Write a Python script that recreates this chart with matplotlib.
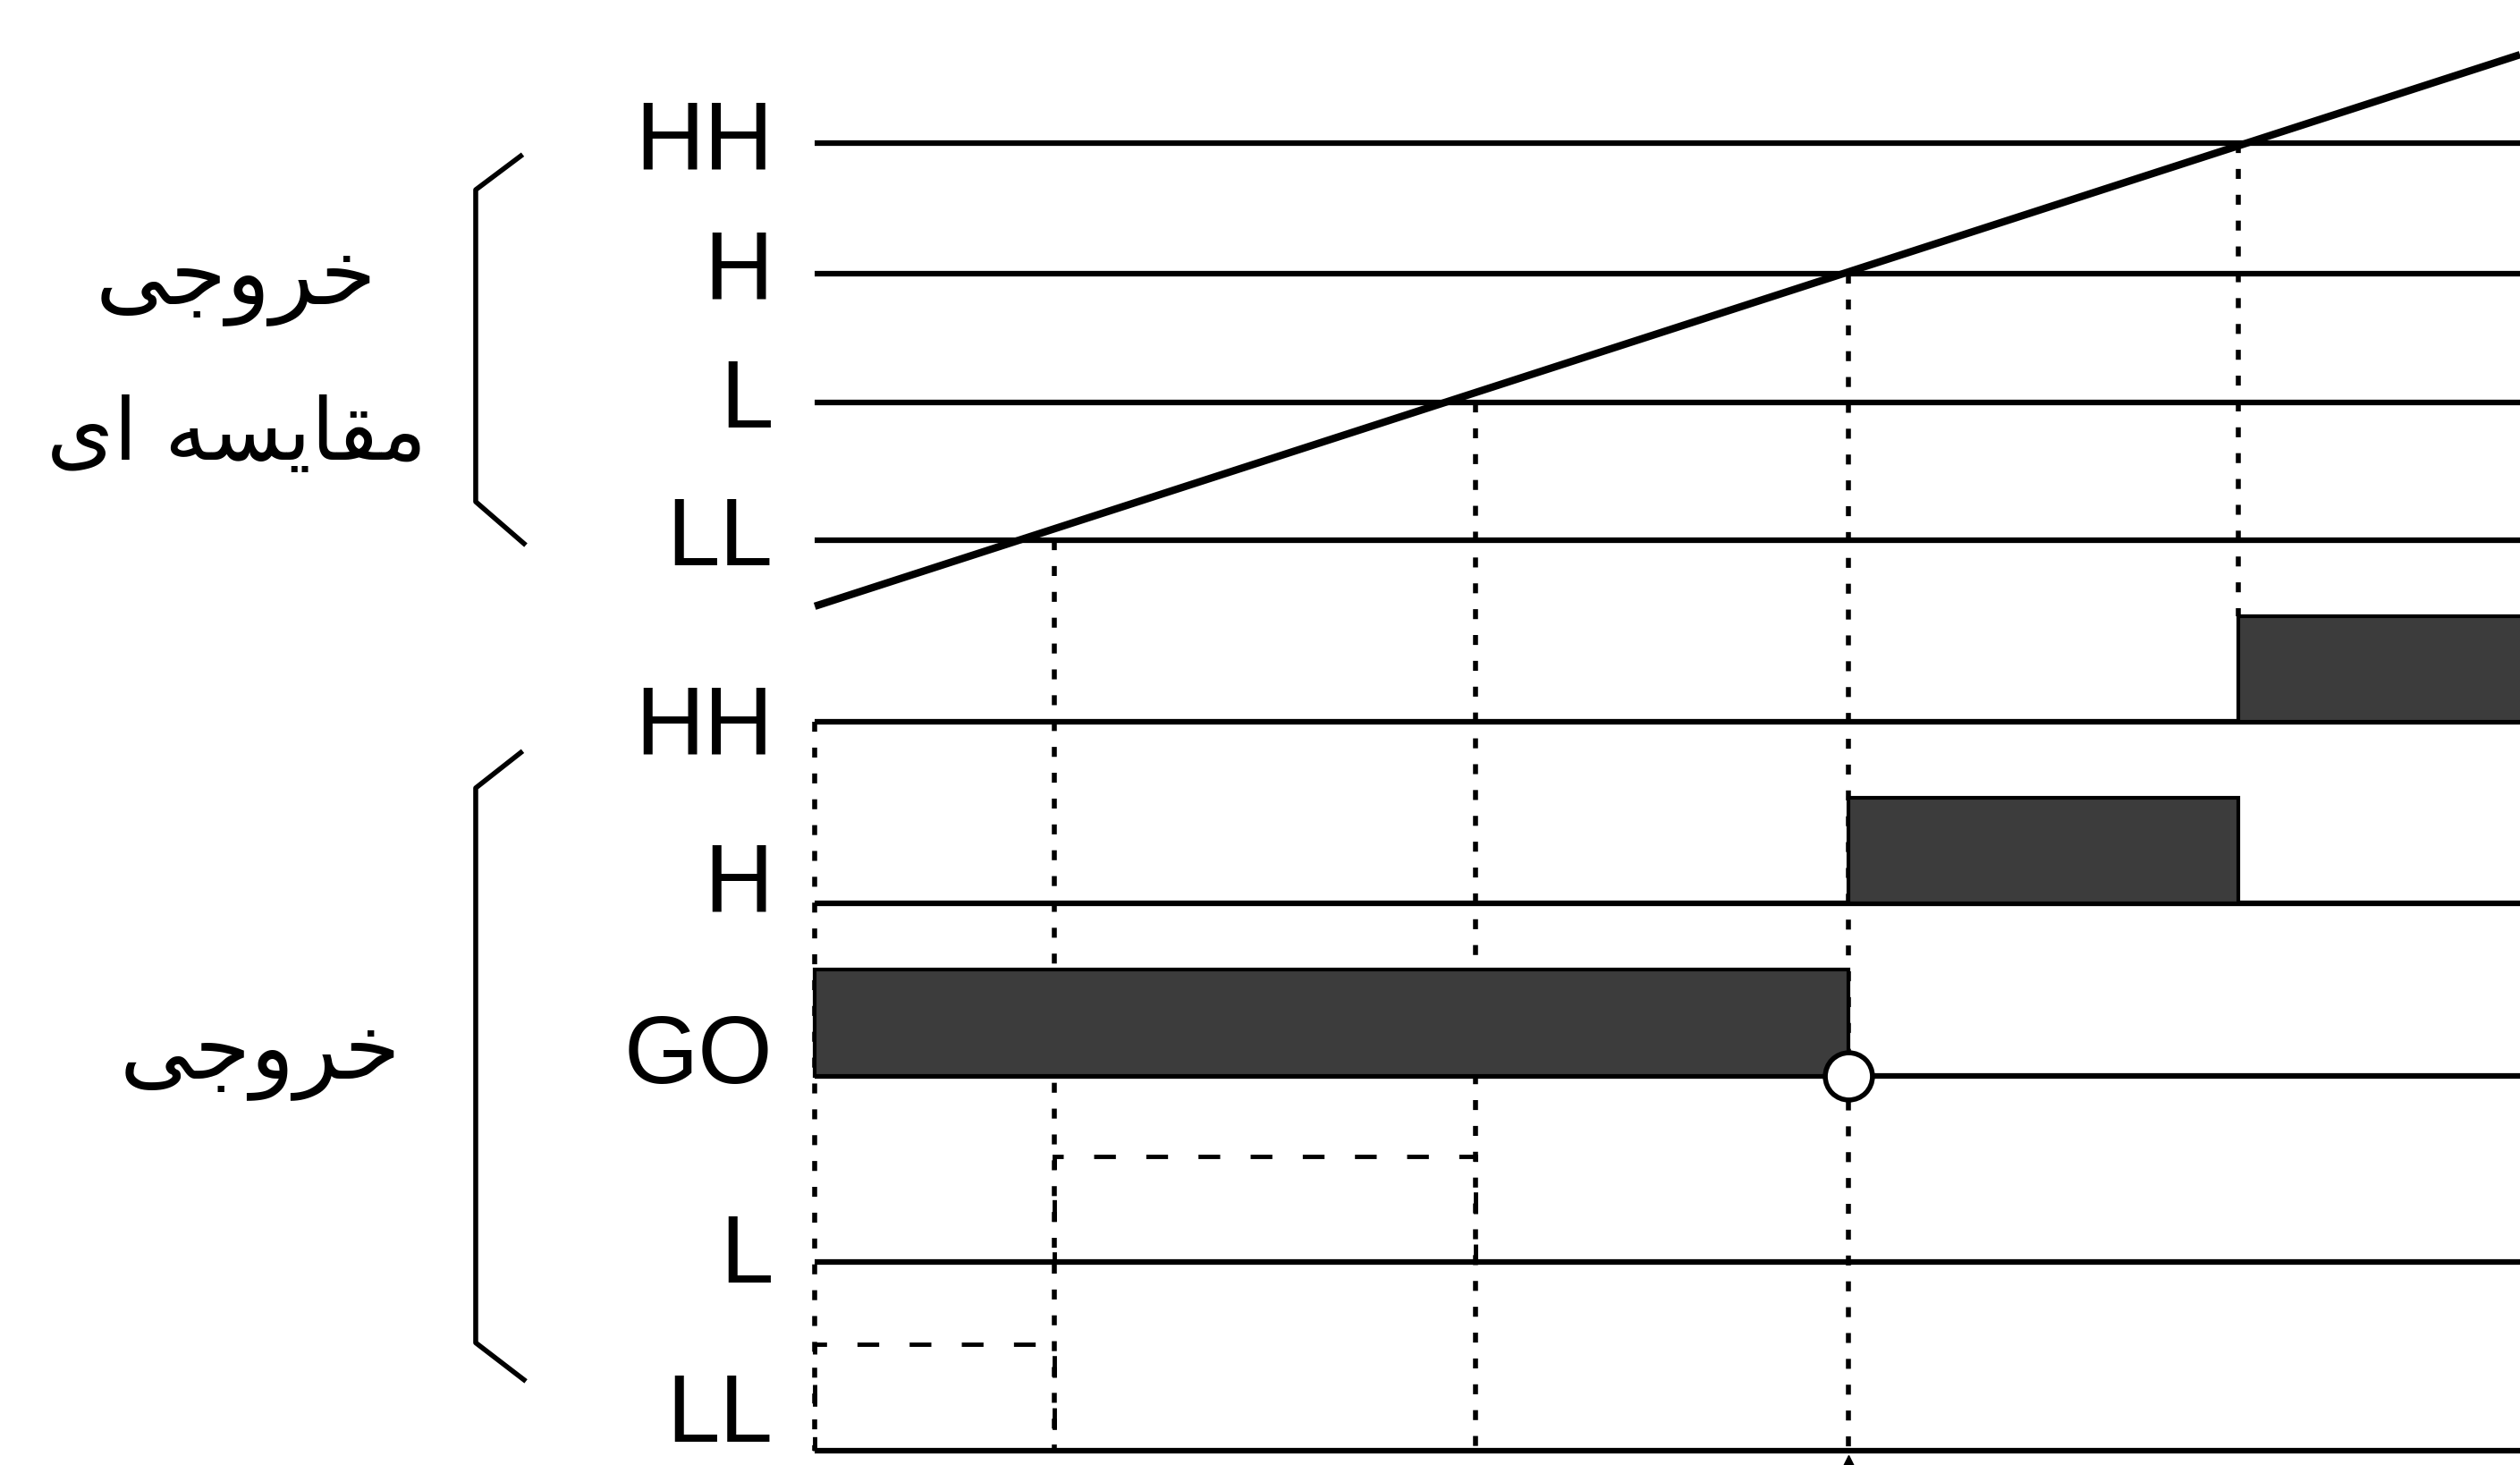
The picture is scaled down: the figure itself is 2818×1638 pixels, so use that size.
import numpy as np
import matplotlib
matplotlib.use("Agg")
import matplotlib.pyplot as plt
from matplotlib.patches import Rectangle

# -----------------------------
# Data
# -----------------------------
cmp_labels = ["HH", "H", "L", "LL"]
cmp_levels = [8.22, 7.41, 6.61, 5.75]          # comparator thresholds
out_labels = ["HH", "H", "GO", "L", "LL"]
out_levels = [4.62, 3.49, 2.42, 1.26, 0.09]    # output rows
out_label_y = [4.58, 3.60, 2.53, 1.29, 0.30]

cross_t = [1.49, 4.11, 6.43, 8.86]             # ramp crosses LL, L, H, HH
ramp_t = [0.0, 10.61]
ramp_v = [5.34, 8.77]
t_end = 10.61

# active outputs (filled) and optional outputs (dashed)
active_rows = ["GO", "H", "HH"]
active_start = [0.0, 6.43, 8.86]
active_end = [6.43, 8.86, 10.7]
dashed_rows = ["LL", "L"]
dashed_start = [0.0, 1.49]
dashed_end = [1.49, 4.11]
bar_h = 0.66

# Persian captions (visual order, presentation forms)
txt_out = "\ufbfd\ufe9f\ufeed\ufeae\ufea7"                       # خروجی
txt_cmp = "\ufbfc\ufe8d \ufeea\ufeb4\ufbfe\ufe8e\ufed8\ufee3"    # مقایسه ای

plt.rcParams["font.family"] = ["Liberation Sans", "DejaVu Sans"]

fig = plt.figure(figsize=(28.18, 16.38), dpi=100)
ax = fig.add_axes([0, 0, 1, 1])
ax.set_xlim(-5.07, t_end)
ax.set_ylim(0, 9.11)
ax.axis("off")

dark = "#3c3c3c"

# -----------------------------
# Horizontal level lines
# -----------------------------
for y in cmp_levels + out_levels:
    ax.plot([0, t_end], [y, y], color="black", lw=4.5, solid_capstyle="butt")

# ramp signal
ax.plot(ramp_t, ramp_v, color="black", lw=6, solid_capstyle="butt")

# -----------------------------
# Output bars
# -----------------------------
row_y = dict(zip(out_labels, out_levels))
for name, s, e in zip(active_rows, active_start, active_end):
    ax.add_patch(Rectangle((s, row_y[name]), e - s, bar_h,
                           facecolor=dark, edgecolor="black", lw=3, zorder=3))
for name, s, e in zip(dashed_rows, dashed_start, dashed_end):
    ax.add_patch(Rectangle((s, row_y[name]), e - s, bar_h,
                           facecolor="none", edgecolor="black", lw=3.5,
                           linestyle=(0, (5, 7)), zorder=3))

# -----------------------------
# Dotted verticals at crossings
# -----------------------------
dot = (0, (2, 3.2))
ax.plot([0, 0], [out_levels[0], out_levels[-1]], color="black", lw=4, linestyle=dot)
for t, top in zip(cross_t[:3], cmp_levels[::-1][:3]):
    ax.plot([t, t], [top, out_levels[-1]], color="black", lw=4, linestyle=dot, zorder=2)
ax.plot([cross_t[3], cross_t[3]], [cmp_levels[0], out_levels[0] + bar_h],
        color="black", lw=4, linestyle=dot, zorder=2)

# GO off point and arrow at bottom
ax.plot(cross_t[2], row_y["GO"], "o", ms=38, mfc="white", mec="black", mew=4, zorder=5)
ax.plot(cross_t[2], -0.02, "^", ms=22, color="black", zorder=5, clip_on=True)

# -----------------------------
# Labels
# -----------------------------
for lab, y in zip(cmp_labels, cmp_levels):
    ax.text(-0.26, y, lab, ha="right", va="center", fontsize=77)
for lab, y in zip(out_labels, out_label_y):
    ax.text(-0.26, y, lab, ha="right", va="center", fontsize=77)

# brackets
ax.plot([-1.83, -2.11, -2.11, -1.81], [8.14, 7.93, 5.99, 5.73], color="black", lw=4)
ax.plot([-1.83, -2.11, -2.11, -1.81], [4.43, 4.21, 0.76, 0.53], color="black", lw=4)

ax.text(-3.60, 7.36, txt_out, ha="center", va="center", fontsize=73, family=["DejaVu Sans"])
ax.text(-3.60, 6.40, txt_cmp, ha="center", va="center", fontsize=69, family=["DejaVu Sans"])
ax.text(-3.45, 2.54, txt_out, ha="center", va="center", fontsize=73, family=["DejaVu Sans"])

fig.savefig("out.png", dpi=100)
